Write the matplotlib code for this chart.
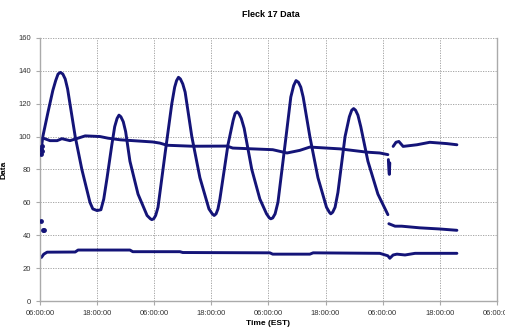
import matplotlib.pyplot as plt

plt.rcParams['font.family'] = ['Liberation Sans', 'DejaVu Sans']

# hours since start (0..96)
wave_hours = [0.3, 0.6, 1.7, 2.7, 3.3, 3.8, 4.3, 4.8, 5.3, 5.8, 7.4, 8.8, 10.5, 11.1, 12.0,
              12.8, 13.4, 14.1, 15.1, 15.7, 16.2, 16.6, 17.0, 17.5, 18.0, 18.9, 20.6, 22.5,
              23.2, 23.5, 23.9, 24.3, 24.8, 26.3, 27.7, 28.3, 28.7, 29.1, 29.5, 30.0,
              30.5, 31.9, 33.6, 35.5, 36.2, 36.6, 37.0, 37.4, 37.8, 39.5, 40.6, 41.0,
              41.4, 41.8, 42.3, 42.9, 44.5, 46.2, 47.6, 48.2, 48.5, 48.9, 49.4, 50.0,
              51.7, 52.7, 53.3, 53.8, 54.3, 54.8, 55.3, 56.7, 58.4, 60.2, 60.8, 61.1,
              61.5, 62.0, 62.6, 64.1, 65.0, 65.5, 65.9, 66.3, 66.8, 67.4, 68.9, 71.0, 73.1]
wave_vals = [93, 100, 115, 128, 134, 138, 139, 138, 135, 129, 100, 80, 60, 56, 55,
             55.5, 62, 75, 95, 106, 111, 113, 112, 109, 103, 85, 65, 52,
             50, 49.5, 50, 52, 57, 90, 120, 130, 134, 136, 135, 132,
             127, 100, 75, 56, 53, 52, 53, 56, 62, 95, 110, 114,
             115, 114, 111, 105, 80, 62, 53, 50.5, 50, 50.5, 53, 60,
             100, 124, 131, 134, 133, 130, 124, 100, 75, 57, 54, 53,
             54, 57, 66, 100, 112, 116, 117, 116, 113, 106, 85, 65, 52.5]
tail_hours = [73.3, 74.6, 76.0, 79.8, 84.0, 87.6]
tail_vals = [47, 45.5, 45.5, 44.5, 43.8, 43]

mid_hours = [0.6, 1.0, 2.1, 3.6, 4.6, 6.3, 8.0, 9.5, 12.6, 14.3, 16.9, 23.7, 25.2, 26.7,
             32.1, 39.3, 40.5, 48.9, 50.4, 51.9, 54.6, 56.7, 63.0, 68.7, 71.4, 73.1]
mid_vals = [99, 98.7, 97.5, 97.5, 98.7, 97.5, 99, 100.4, 100, 99, 98, 96.7, 96, 94.7,
            94.1, 94.2, 93, 92, 91, 90, 91.6, 93.6, 92.5, 90.5, 90, 89]
dip_hours = [73.2, 73.3, 73.4, 73.5]
dip_vals = [86, 80, 77, 84]
late_hours = [74.2, 74.8, 75.4, 76.3, 79.2, 81.9, 85.5, 87.6]
late_vals = [94, 96.5, 97, 94, 95, 96.5, 95.7, 95]

low_hours = [0.3, 0.8, 1.5, 7.4, 8.0, 18.9, 19.5, 29.4, 30.0, 48.3, 48.9, 56.7, 57.4,
             71.4, 73.1, 73.5, 74.2, 75.0, 76.7, 78.8, 87.6]
low_vals = [26.5, 28.5, 29.7, 29.8, 31, 31, 30, 30, 29.5, 29.3, 28.5, 28.5, 29.3,
            29, 27.5, 26, 28, 28.5, 28, 29, 29]

# stray points at the very start
stray_hours = [0.2, 0.3, 0.4, 0.5, 0.3, 0.6, 0.8]
stray_vals = [92.6, 89.6, 94, 91, 48.8, 42.9, 43]

xtick_labels = ["06:00:00", "18:00:00", "06:00:00", "18:00:00", "06:00:00",
                "18:00:00", "06:00:00", "18:00:00", "06:00:00"]

navy = '#141478'

fig = plt.figure(figsize=(5.06, 3.29), dpi=100)
ax = fig.add_axes([0.079, 0.085, 0.903, 0.80])

for h, v in [(wave_hours, wave_vals), (tail_hours, tail_vals), (mid_hours, mid_vals),
             (dip_hours, dip_vals), (late_hours, late_vals), (low_hours, low_vals)]:
    ax.plot(h, v, color=navy, lw=2.1, solid_capstyle='round', solid_joinstyle='round')
ax.scatter(stray_hours, stray_vals, s=6, color=navy, zorder=3)

ax.set_xlim(0, 96)
ax.set_ylim(0, 160)
ax.set_xticks(range(0, 97, 12))
ax.set_xticklabels(xtick_labels)
ax.set_yticks(range(0, 161, 20))

ax.grid(True, color='#999999', linestyle=(0, (1.5, 1.5)), linewidth=0.6)
ax.set_axisbelow(True)
for s in ['left', 'bottom', 'right']:
    ax.spines[s].set_color('#aaaaaa')
    ax.spines[s].set_linewidth(1.0)
ax.spines['top'].set_visible(False)
ax.tick_params(labelsize=5.5, colors='#333333', length=3, width=0.8)
ax.tick_params(axis='both', color='#aaaaaa')

ax.set_xlabel('Time (EST)', fontsize=6, fontweight='bold', labelpad=2)
ax.set_ylabel('Data', fontsize=6, fontweight='bold', labelpad=8)
fig.text(0.535, 0.955, 'Fleck 17 Data', ha='center', va='center', fontsize=6.5, fontweight='bold')

fig.savefig('out.png', dpi=100)
